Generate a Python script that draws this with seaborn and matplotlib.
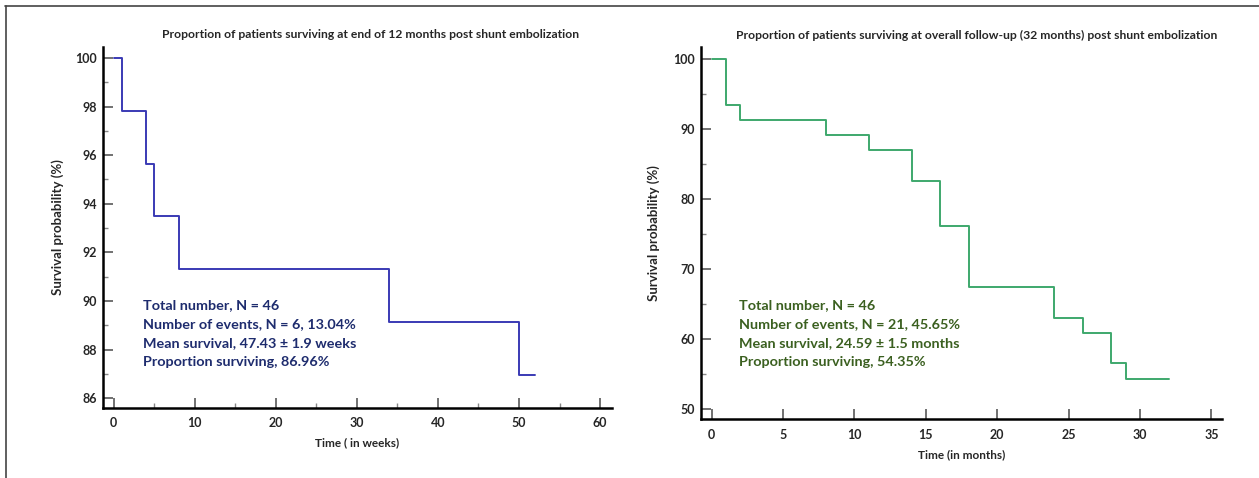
import matplotlib
matplotlib.use('Agg')
import matplotlib.pyplot as plt
from matplotlib.lines import Line2D
from matplotlib.ticker import MultipleLocator
import seaborn as sns
import pandas as pd

# ── Data (Kaplan-Meier steps) ──
WEEKS = [0, 1, 4, 5, 8, 34, 50, 52]
SURV_12M = [100, 97.83, 95.65, 93.48, 91.30, 89.13, 86.96, 86.96]

MONTHS = [0, 1, 2, 8, 11, 14, 16, 18, 24, 26, 28, 29, 32]
SURV_32M = [100, 93.48, 91.30, 89.13, 86.96, 82.61, 76.09, 67.39,
            63.04, 60.87, 56.52, 54.35, 54.35]

TEXT_12M = ['Total number, N = 46',
            'Number of events, N = 6, 13.04%',
            'Mean survival, 47.43 \u00b1 1.9 weeks',
            'Proportion surviving, 86.96%']
TEXT_32M = ['Total number, N = 46',
            'Number of events, N = 21, 45.65%',
            'Mean survival, 24.59 \u00b1 1.5 months',
            'Proportion surviving, 54.35%']

sns.set_style('ticks')
plt.rcParams['font.family'] = ['Lato', 'DejaVu Sans']
plt.rcParams['font.weight'] = 'bold'

W, H = 1259, 478
fig = plt.figure(figsize=(W / 100, H / 100), dpi=100)


def style_axes(ax, xmajor, xminor, ymajor, yminor, xpad):
    for s in ['top', 'right']:
        ax.spines[s].set_visible(False)
    for s in ['left', 'bottom']:
        ax.spines[s].set_linewidth(1.8)
        ax.spines[s].set_color('black')
    ax.xaxis.set_major_locator(MultipleLocator(xmajor))
    ax.yaxis.set_major_locator(MultipleLocator(ymajor))
    if xminor:
        ax.xaxis.set_minor_locator(MultipleLocator(xminor))
    if yminor:
        ax.yaxis.set_minor_locator(MultipleLocator(yminor))
    ax.tick_params(which='major', direction='in', length=7, width=1.3,
                   color='#666666', labelsize=9, pad=4)
    ax.tick_params(axis='x', which='major', pad=xpad)
    ax.tick_params(which='minor', direction='in', length=3.5, width=1.0,
                   color='#888888')
    for lab in ax.get_xticklabels() + ax.get_yticklabels():
        lab.set_fontweight('bold')


def px_axes(x0, y0, x1, y1):
    return fig.add_axes([x0 / W, 1 - y1 / H, (x1 - x0) / W, (y1 - y0) / H])


# ════════════════════════════════════════════════
# Left: 12 months
# ════════════════════════════════════════════════
ax1 = px_axes(102.7, 46.7, 611.7, 408.3)
df1 = pd.DataFrame({'t': WEEKS, 's': SURV_12M})
sns.lineplot(data=df1, x='t', y='s', ax=ax1, estimator=None,
             drawstyle='steps-post', color='#3a3ab4', linewidth=1.4)
ax1.set_xlim(-1.36, 61.44)
ax1.set_ylim(85.59, 100.46)
style_axes(ax1, 10, 5, 2, 1, xpad=6)
ax1.set_xlabel('Time ( in weeks)', fontsize=8.5, fontweight='bold', labelpad=6)
ax1.set_ylabel('Survival probability (%)', fontsize=9.5, fontweight='bold', labelpad=8)
fig.text(371 / W, 1 - 35 / H,
         'Proportion of patients surviving at end of 12 months post shunt embolization',
         ha='center', va='center', fontsize=8.7, fontweight='bold')
for i, line in enumerate(TEXT_12M):
    fig.text(143 / W, 1 - (305 + 19 * i) / H, line, ha='left', va='center',
             fontsize=10.4, fontweight='bold', color='#1e2c6e')

# ════════════════════════════════════════════════
# Right: overall follow-up
# ════════════════════════════════════════════════
ax2 = px_axes(700.7, 47.3, 1222, 419.3)
df2 = pd.DataFrame({'t': MONTHS, 's': SURV_32M})
sns.lineplot(data=df2, x='t', y='s', ax=ax2, estimator=None,
             drawstyle='steps-post', color='#3ea86c', linewidth=1.4)
ax2.set_xlim(-0.77, 35.74)
ax2.set_ylim(48.53, 101.67)
style_axes(ax2, 5, None, 10, 5, xpad=7)
ax2.set_xlabel('Time (in months)', fontsize=8.5, fontweight='bold', labelpad=6)
ax2.set_ylabel('Survival probability (%)', fontsize=9.5, fontweight='bold', labelpad=10)
fig.text(977 / W, 1 - 35 / H,
         'Proportion of patients surviving at overall follow-up (32 months) post shunt embolization',
         ha='center', va='center', fontsize=8.7, fontweight='bold')
for i, line in enumerate(TEXT_32M):
    fig.text(739 / W, 1 - (305 + 19 * i) / H, line, ha='left', va='center',
             fontsize=10.4, fontweight='bold', color='#3b6020')

# ── frame lines (top and left) ──
fig.add_artist(Line2D([5 / W, 1], [1 - 6 / H, 1 - 6 / H], color='#444444', linewidth=1.2))
fig.add_artist(Line2D([6 / W, 6 / W], [0, 1 - 6 / H], color='#444444', linewidth=1.2))

fig.savefig('out.png', dpi=100)
